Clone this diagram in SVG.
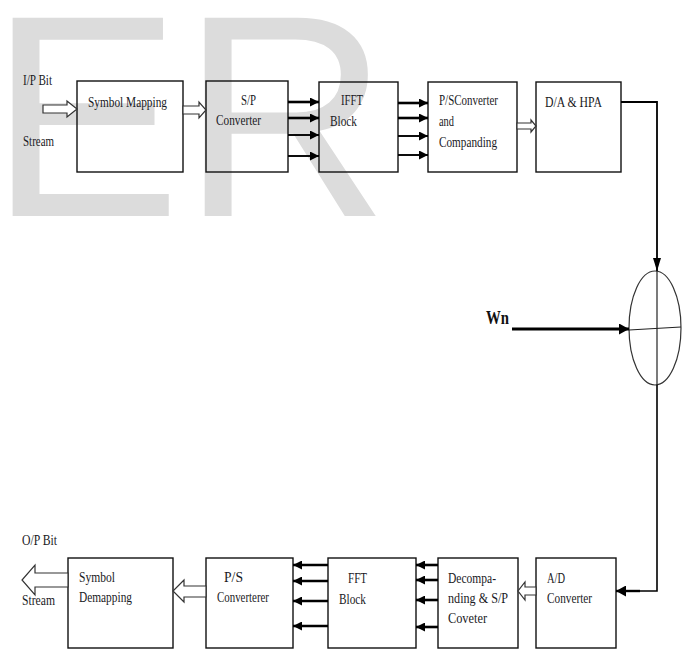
<svg xmlns="http://www.w3.org/2000/svg" width="688" height="650" viewBox="0 0 688 650">
<style>
.wm{font-family:"Liberation Sans",Arial,sans-serif;font-size:288px;fill:#dcdcdc}
.box{fill:none;stroke:#111;stroke-width:1.4}
.t{font-family:"Liberation Serif","Times New Roman",serif;font-size:14px;fill:#1a1a24}
.tb{font-family:"Liberation Serif","Times New Roman",serif;font-size:18px;font-weight:bold;fill:#111}
.bus{stroke:#000;stroke-width:2.6;fill:none;marker-end:url(#ah)}
.bus2{stroke:#000;stroke-width:1.9;fill:none;marker-end:url(#ah)}
.line{stroke:#000;stroke-width:1.8;fill:none}
.thin{stroke:#222;stroke-width:1.2;fill:none}
.hollow{fill:#fff;stroke:#333;stroke-width:1.2;stroke-linejoin:miter}
</style>
<defs>
<marker id="ah" markerUnits="userSpaceOnUse" markerWidth="9" markerHeight="9" refX="9" refY="4.5" orient="auto">
<path d="M0,0 L9,4.5 L0,9 z" fill="#000"/>
</marker>
<marker id="ahv" markerUnits="userSpaceOnUse" markerWidth="13" markerHeight="8" refX="13" refY="4" orient="auto">
<path d="M0,0 L13,4 L0,8 z" fill="#000"/>
</marker>
<marker id="ahw" markerUnits="userSpaceOnUse" markerWidth="10" markerHeight="11" refX="10" refY="5.5" orient="auto">
<path d="M0,0 L10,5.5 L0,11 z" fill="#000"/>
</marker>
</defs>
<rect width="688" height="650" fill="#fff"/>
<text class="wm" x="-11" y="216">ER</text>

<g id="symbol-mapping">
<rect class="box" x="77" y="81" width="106" height="91"/>
<text class="t" x="88" y="107" textLength="79" lengthAdjust="spacingAndGlyphs">Symbol Mapping</text>
</g>
<g id="sp-converter">
<rect class="box" x="206" y="81" width="82" height="91"/>
<text class="t" x="241" y="105" textLength="15" lengthAdjust="spacingAndGlyphs">S/P</text>
<text class="t" x="216" y="125" textLength="45" lengthAdjust="spacingAndGlyphs">Converter</text>
</g>
<g id="ifft-block">
<rect class="box" x="319" y="82" width="79" height="90"/>
<text class="t" x="341" y="105" textLength="22" lengthAdjust="spacingAndGlyphs">IFFT</text>
<text class="t" x="330" y="126" textLength="27" lengthAdjust="spacingAndGlyphs">Block</text>
</g>
<g id="ps-converter">
<rect class="box" x="428" y="82" width="89" height="90"/>
<text class="t" x="439" y="105" textLength="59" lengthAdjust="spacingAndGlyphs">P/SConverter</text>
<text class="t" x="439" y="126" textLength="15" lengthAdjust="spacingAndGlyphs">and</text>
<text class="t" x="439" y="147" textLength="58" lengthAdjust="spacingAndGlyphs">Companding</text>
</g>
<g id="da-hpa">
<rect class="box" x="536" y="82" width="85" height="90"/>
<text class="t" x="545" y="107" textLength="57" lengthAdjust="spacingAndGlyphs">D/A &amp; HPA</text>
</g>
<g id="adder">
<ellipse cx="655" cy="328" rx="26" ry="57" fill="none" stroke="#333" stroke-width="1.2"/>
<line class="thin" x1="629" y1="330" x2="681" y2="327"/>
<line class="thin" x1="657" y1="271" x2="657" y2="385"/>
</g>
<g id="ad-converter">
<rect class="box" x="536" y="558" width="80" height="90"/>
<text class="t" x="547" y="583" textLength="18" lengthAdjust="spacingAndGlyphs">A/D</text>
<text class="t" x="547" y="603" textLength="45" lengthAdjust="spacingAndGlyphs">Converter</text>
</g>
<g id="decompanding">
<rect class="box" x="438" y="558" width="80" height="90"/>
<text class="t" x="448" y="583" textLength="48" lengthAdjust="spacingAndGlyphs">Decompa-</text>
<text class="t" x="448" y="603" textLength="60" lengthAdjust="spacingAndGlyphs">nding &amp; S/P</text>
<text class="t" x="448" y="623" textLength="39" lengthAdjust="spacingAndGlyphs">Coveter</text>
</g>
<g id="fft-block">
<rect class="box" x="328" y="558" width="88" height="90"/>
<text class="t" x="348" y="583" textLength="19" lengthAdjust="spacingAndGlyphs">FFT</text>
<text class="t" x="339" y="604" textLength="27" lengthAdjust="spacingAndGlyphs">Block</text>
</g>
<g id="ps-converterer">
<rect class="box" x="206" y="558" width="87" height="90"/>
<text class="t" x="224" y="582" textLength="19" lengthAdjust="spacingAndGlyphs">P/S</text>
<text class="t" x="217" y="602" textLength="52" lengthAdjust="spacingAndGlyphs">Converterer</text>
</g>
<g id="symbol-demapping">
<rect class="box" x="68" y="558" width="105" height="90"/>
<text class="t" x="79" y="582" textLength="36" lengthAdjust="spacingAndGlyphs">Symbol</text>
<text class="t" x="79" y="602" textLength="53" lengthAdjust="spacingAndGlyphs">Demapping</text>
</g>
<g id="labels">
<text class="t" x="23" y="85" textLength="29" lengthAdjust="spacingAndGlyphs">I/P Bit</text>
<text class="t" x="23" y="146" textLength="31" lengthAdjust="spacingAndGlyphs">Stream</text>
<text class="tb" x="486" y="324" textLength="23" lengthAdjust="spacingAndGlyphs">Wn</text>
<text class="t" x="22" y="545" textLength="35" lengthAdjust="spacingAndGlyphs">O/P Bit</text>
<text class="t" x="22" y="605" textLength="33" lengthAdjust="spacingAndGlyphs">Stream</text>
</g>

<g id="connectors">
<polygon class="hollow" points="43,105 67,105 67,101 77,109 67,117 67,113 43,113"/>
<polygon class="hollow" points="183,106 199,106 199,102 206,110 199,118 199,114 183,114"/>
<polygon class="hollow" points="517,123 531,123 531,120 536,126 531,132 531,129 517,129"/>
<line class="bus" x1="288" y1="102" x2="319" y2="102"/>
<line class="bus" x1="288" y1="118" x2="319" y2="118"/>
<line class="bus2" x1="288" y1="135" x2="319" y2="135"/>
<line class="bus2" x1="288" y1="156" x2="319" y2="156"/>
<line class="bus" x1="398" y1="103" x2="428" y2="103"/>
<line class="bus" x1="398" y1="118" x2="428" y2="118"/>
<line class="bus2" x1="398" y1="136" x2="428" y2="136"/>
<line class="bus2" x1="398" y1="155" x2="428" y2="155"/>
<polyline class="line" points="621,102 657,102 657,271" marker-end="url(#ahv)"/>
<line stroke="#000" stroke-width="3" x1="512" y1="329" x2="629" y2="329" marker-end="url(#ahw)"/>
<polyline stroke="#000" stroke-width="1.6" fill="none" points="657,385 657,591 616,591"/>
<line stroke="#000" stroke-width="2.4" x1="640" y1="591" x2="616" y2="591" marker-end="url(#ahw)"/>
<polygon class="hollow" points="536,587 525,587 525,582 518,591 525,600 525,595 536,595"/>
<line class="bus" x1="438" y1="565" x2="416" y2="565"/>
<line class="bus" x1="438" y1="580" x2="416" y2="580"/>
<line class="bus" x1="438" y1="600" x2="416" y2="600"/>
<line class="bus" x1="438" y1="627" x2="416" y2="627"/>
<line class="bus" x1="328" y1="565" x2="293" y2="565"/>
<line class="bus" x1="328" y1="581" x2="293" y2="581"/>
<line class="bus" x1="328" y1="601" x2="293" y2="601"/>
<line class="bus" x1="328" y1="626" x2="293" y2="626"/>
<polygon class="hollow" points="206,586 184,586 184,580 173,591 184,602 184,597 206,597"/>
<polygon class="hollow" points="68,573 35,573 35,565 22,580 35,595 35,587 68,587"/>
</g>
</svg>
